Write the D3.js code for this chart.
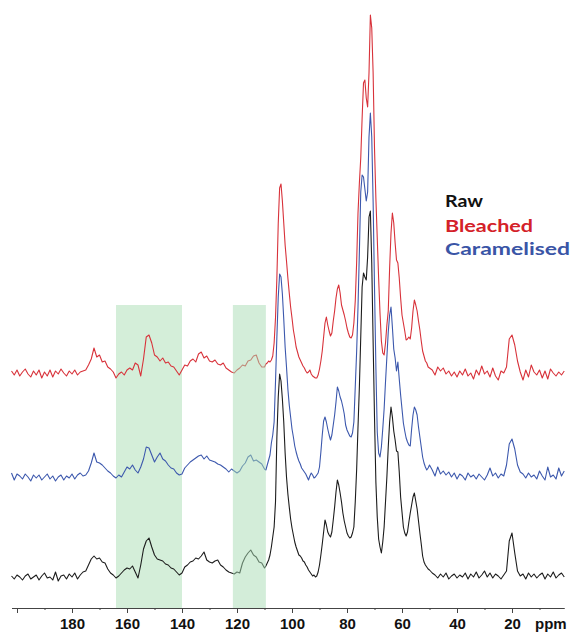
<!DOCTYPE html>
<html>
<head>
<meta charset="utf-8">
<script src="https://cdn.jsdelivr.net/npm/d3@7"></script>
<style>
  html, body { margin: 0; padding: 0; background: #fff; }
  svg { display: block; }
</style>
</head>
<body>
<svg id="chart"></svg>
<script>
// sample positions (ppm), finer step through the crowded 110-50 region
const ppm = [
    ...d3.range(202, 110, -1),
    ...d3.range(110, 50, -0.5),
    ...d3.range(50, 0, -1)
]

// intensities, one value per ppm sample
const raw = [
    1,-2,2,0,-3,1,3,-2,0,2, -3,1,4,-1,0,-3,5,-4,1,2, -2,3,0,4,-2,2,5,
    6,12,18,21,18,19,15,14,8,4, 2,-1,1,4,7,9,8,11,5,-1,
    12,28,36,39,30,22,18,17,16,13, 12,9,8,5,2,4,10,12,15,16,
    19,18,21,25,17,15,14,16,17,12, 10,7,5,4,3,5,4,14,20,24,
    27,22,20,15,14,
    9,11,14,17,22,30,40,50,75,140, 180,203,196,178,155,124,100,83,70,58,
    49,42,35,30,26,22,21,19,16,15, 12,10,7,5,3,1,2,0,1,5,
    12,22,33,45,57,52,45,42,40,45, 57,70,85,97,92,84,75,64,56,50,
    44,41,39,40,44,50,75,107,150,190, 240,290,304,300,297,320,360,366,314,235,
    160,95,60,38,30,24,35,50,75,100, 130,155,170,160,146,137,126,125,105,80,
    65,50,44,41,45,55,64,72,80,84, 76,68,56,44,33,21,15,12,10,8,
    7,4,2,-1,3,0,4,-2,1,3, -1,2,0,4,-2,3,0,5,-1,2,
    6,0,4,-1,3,1,-2,2,6,36, 44,24,6,1,3,-2,4,0,3,-1,
    2,4,-2,3,0,5,-1,2,4,0
]

const bleached = [
    2,-2,3,-3,1,4,-1,-4,2,-2, 3,-5,1,-3,3,-4,2,-1,4,0, -3,2,-1,3,-2,1,2,
    3,8,14,25,16,18,11,12,6,4, 1,-5,-1,1,-2,3,5,3,10,8,
    -3,14,36,38,30,18,16,12,15,10, 11,7,6,2,-2,3,8,7,12,14,
    11,19,21,15,17,12,11,13,9,8, 10,5,3,1,0,3,5,8,7,12,
    13,17,18,10,6,
    6,9,10,12,11,13,17,30,55,95, 150,185,189,172,150,128,112,95,80,66,
    55,43,35,26,21,16,13,10,7,5, 2,0,1,3,-1,-3,-4,-5,-5,-2,
    4,12,22,36,50,56,48,42,37,40, 52,62,75,84,88,80,68,63,58,52,
    45,40,36,35,38,50,72,110,160,190, 215,255,290,293,275,266,300,358,345,300,
    225,175,135,95,60,32,20,18,30,48, 62,105,140,160,150,130,113,110,95,75,
    58,50,42,33,34,36,34,45,62,73, 68,62,52,43,32,22,17,12,10,6,
    5,3,-2,6,2,5,-1,2,-3,1, -4,2,-2,4,-3,0,-6,3,-2,7,
    -1,2,-4,5,-3,-7,2,0,6,34, 38,28,12,1,-7,3,-4,8,1,-2,
    3,-5,2,-6,4,0,-3,1,-2,2
]

const caramelised = [
    4,-3,3,1,-2,3,0,-4,2,-1, 2,-3,0,3,-2,1,-4,0,2,-3, 1,-1,3,-2,2,4,1,
    2,6,14,24,15,14,12,9,6,4, 1,-1,2,0,5,10,8,12,7,4,
    10,18,30,29,22,15,20,24,18,16, 12,9,8,4,2,3,9,12,15,17,
    19,21,22,18,21,17,16,15,13,12, 10,8,5,8,6,4,6,11,14,20,
    22,16,17,15,13,
    8,7,12,17,22,34,42,55,95,140, 180,203,200,183,158,130,110,88,72,60,
    48,40,31,25,20,16,13,9,7,5, 3,0,-3,1,4,2,-1,0,2,4,
    10,25,42,56,60,55,48,42,37,42, 52,62,75,90,86,80,76,70,63,52,
    47,44,41,40,44,55,90,125,170,225, 285,302,300,288,276,285,340,364,340,275,
    190,110,45,24,20,30,48,68,95,120, 145,162,170,150,128,119,106,115,98,82,
    68,54,46,39,35,32,31,48,62,70, 67,62,50,40,30,20,14,10,7,9,
    12,7,1,10,3,6,2,5,0,4, -2,3,1,-3,4,0,2,-2,3,0,
    -3,2,9,1,4,-1,3,1,12,33, 38,28,12,5,3,-1,4,0,2,-2,
    6,1,-3,10,0,2,-2,9,1,6
]

const seriesNames = ['Raw', 'Bleached', 'Caramelised']
const seriesData = [raw, bleached, caramelised]
const seriesOffsets = [0, 204, 100]
const seriesColors = ['#1c1c1c', '#d8323a', '#3c58ad']
const legendColors = ['#111111', '#d42129', '#3a55a6']

// highlighted regions (ppm)
const bands = [[164, 140], [121.5, 109.5]]

const majorTicks = [200, 180, 160, 140, 120, 100, 80, 60, 40, 20]
const minorTicks = [190, 170, 150, 130, 110, 90, 70, 50, 30, 10]

const width = 572, height = 634
const axisY = 608

const svg = d3.select('#chart')
    .attr('width', width)
    .attr('height', height)

const x = d3.scaleLinear()
    .domain([202, 1])
    .range([11.5, 564.25])

const y = d3.scaleLinear()
    .domain([-31, 577])
    .range([axisY, 0])

const bandTop = 272

// first band sits under the traces, second one is laid over them
svg.append('rect')
    .attr('x', x(bands[0][0]))
    .attr('y', y(bandTop))
    .attr('width', x(bands[0][1]) - x(bands[0][0]))
    .attr('height', y(-31) - y(bandTop))
    .attr('fill', '#d4eed9')

const line = d3.line()
    .x(d => x(d[0]))
    .y(d => y(d[1]))

seriesData.forEach((values, i) => {
    svg.append('path')
        .datum(ppm.map((p, j) => [p, values[j] + seriesOffsets[i]]))
        .attr('fill', 'none')
        .attr('stroke', seriesColors[i])
        .attr('stroke-width', 1.1)
        .attr('stroke-linejoin', 'round')
        .attr('d', line)
})

svg.append('rect')
    .attr('x', x(bands[1][0]))
    .attr('y', y(bandTop))
    .attr('width', x(bands[1][1]) - x(bands[1][0]))
    .attr('height', y(-31) - y(bandTop))
    .attr('fill', 'rgb(168,220,179)')
    .attr('fill-opacity', 0.5)

// axis: long ticks every 20 ppm, short ones between
svg.append('g')
    .attr('transform', `translate(0,${axisY})`)
    .call(d3.axisBottom(x).tickValues(minorTicks).tickSize(2).tickSizeOuter(0).tickFormat(''))
    .call(g => g.select('.domain').remove())
    .selectAll('line').attr('stroke', '#444')

const axis = svg.append('g')
    .attr('transform', `translate(0,${axisY})`)
    .call(d3.axisBottom(x)
        .tickValues(majorTicks)
        .tickSize(5)
        .tickSizeOuter(0)
        .tickPadding(5)
        .tickFormat(d => d === 200 ? '' : d))

axis.select('.domain').attr('stroke', '#444').attr('stroke-width', 1.1)
axis.selectAll('line').attr('stroke', '#444')
axis.selectAll('text')
    .attr('fill', '#111')
    .style('font-family', '"Liberation Sans", Arial, sans-serif')
    .style('font-size', '15px')
    .style('font-weight', 'bold')

svg.append('text')
    .attr('x', 535)
    .attr('y', 629)
    .attr('fill', '#111')
    .style('font-family', '"Liberation Sans", Arial, sans-serif')
    .style('font-size', '15px')
    .style('font-weight', 'bold')
    .text('ppm')

// legend
const legendOrder = [0, 1, 2]
const legendBase = [207, 232, 255]
const legendWidths = [38, 88, 125]
legendOrder.forEach((i, k) => {
    svg.append('text')
        .attr('x', 445)
        .attr('y', legendBase[k])
        .attr('fill', legendColors[i])
        .attr('textLength', legendWidths[k])
        .attr('lengthAdjust', 'spacingAndGlyphs')
        .style('font-family', 'Lato, "Open Sans", sans-serif')
        .style('font-size', '17px')
        .style('font-weight', 'bold')
        .text(seriesNames[i])
})
</script>
</body>
</html>
